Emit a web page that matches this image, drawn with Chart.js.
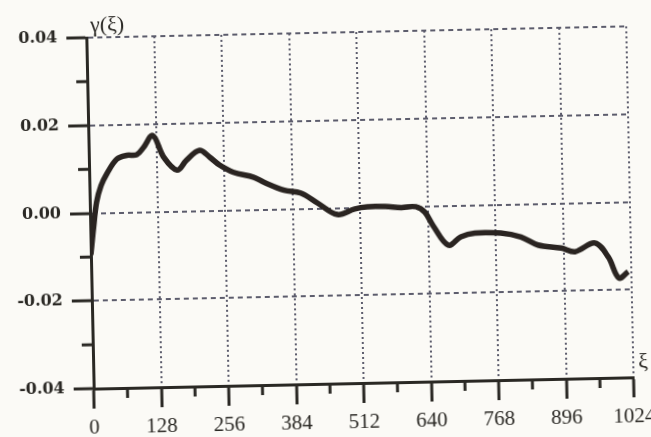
<!DOCTYPE html>
<html>
<head>
<meta charset="utf-8">
<script src="https://cdn.jsdelivr.net/npm/chart.js@4/dist/chart.umd.min.js"></script>
<style>
  html, body { margin: 0; padding: 0; background: #fbfaf6; overflow: hidden; }
  #wrap { width: 651px; height: 437px; transform: rotate(-1.2deg); transform-origin: 360px 210px; }
  canvas { display: block; }
</style>
</head>
<body>
<div id="wrap"><canvas id="c" width="651" height="437"></canvas></div>
<script>
// ---- data ----
const xi = [0, 6, 13, 22, 34, 53, 72, 91, 104, 122, 142, 167, 185, 210, 229, 248, 274, 312, 331, 369, 400, 432, 469, 502, 526, 560, 590, 618, 635, 650, 678, 702, 729, 778, 816, 848, 892, 918, 956, 981, 1000, 1018];
const gamma = [-0.0095, -0.0035, 0.0025, 0.0062, 0.0090, 0.0122, 0.0130, 0.0131, 0.0147, 0.0174, 0.0124, 0.0094, 0.0116, 0.0138, 0.0122, 0.0103, 0.0086, 0.0074, 0.0062, 0.0043, 0.0036, 0.0012, -0.0015, -0.0003, 0.0001, 0.0001, -0.0002, -0.0001, -0.0014, -0.0045, -0.0090, -0.0072, -0.0064, -0.0065, -0.0075, -0.0094, -0.0102, -0.0111, -0.0092, -0.0125, -0.0173, -0.0159];
const xMajorTicks = [0, 128, 256, 384, 512, 640, 768, 896, 1024];
const xMinorTicks = [64, 192, 320, 448, 576, 704, 832, 960];
const yMajorTicks = [-0.04, -0.02, 0.00, 0.02, 0.04];
const yMinorTicks = [-0.03, -0.01, 0.01, 0.03];
const yTitle = 'γ(ξ)';
const xTitle = 'ξ';

const INK = '#2a2824';
const GRID = '#5c5c6c';

const extras = {
  id: 'extras',
  afterDraw(chart) {
    const {ctx, chartArea: a, scales: {x, y}} = chart;
    ctx.save();
    ctx.strokeStyle = INK;
    ctx.lineWidth = 3;
    ctx.setLineDash([]);
    xMinorTicks.forEach(v => {
      const px = x.getPixelForValue(v);
      ctx.beginPath(); ctx.moveTo(px, a.bottom); ctx.lineTo(px, a.bottom + 10); ctx.stroke();
    });
    yMinorTicks.forEach(v => {
      const py = y.getPixelForValue(v);
      ctx.beginPath(); ctx.moveTo(a.left - 11, py); ctx.lineTo(a.left, py); ctx.stroke();
    });
    ctx.fillStyle = INK;
    ctx.textBaseline = 'middle';
    ctx.textAlign = 'left';
    ctx.font = '22px "Liberation Serif"';
    ctx.fillText(yTitle, a.left + 4, a.top - 12);
    ctx.font = '22px "Liberation Serif"';
    ctx.fillText(xTitle, a.right + 5, a.bottom - 15);
    ctx.restore();
  }
};

new Chart(document.getElementById('c'), {
  type: 'line',
  data: {
    datasets: [{
      data: xi.map((v, i) => ({x: v, y: gamma[i]})),
      borderColor: '#2a2421',
      borderWidth: 5.5,
      pointRadius: 0,
      tension: 0.35,
      fill: false
    }]
  },
  options: {
    responsive: false,
    animation: false,
    events: [],
    layout: { padding: { left: 0, right: 21, top: 32, bottom: 0 } },
    plugins: { legend: { display: false }, tooltip: { enabled: false }, title: { display: false } },
    scales: {
      x: {
        type: 'linear',
        min: 0, max: 1024,
        afterBuildTicks: s => { s.ticks = xMajorTicks.map(v => ({value: v})); },
        afterFit: s => { s.height = 54; s.paddingLeft = 0; s.paddingRight = 0; },
        ticks: {
          autoSkip: false, maxRotation: 0, padding: 7,
          color: INK,
          font: { family: '"Liberation Serif"', size: 21 },
          callback: v => String(v)
        },
        grid: {
          color: ctx => (ctx.tick && ctx.tick.value > 0) ? GRID : 'rgba(0,0,0,0)',
          lineWidth: 2,
          drawTicks: true,
          tickLength: 20,
          tickWidth: 3,
          tickColor: INK,
          tickBorderDash: []
        },
        border: { display: true, color: INK, width: 3, dash: [2, 3] }
      },
      y: {
        type: 'linear',
        min: -0.04, max: 0.04,
        afterBuildTicks: s => { s.ticks = yMajorTicks.map(v => ({value: v})); },
        afterFit: s => { s.width = 90; },
        ticks: {
          padding: 9,
          color: INK,
          font: { family: '"DejaVu Serif"', size: 16, weight: 'bold' },
          callback: v => v.toFixed(2)
        },
        grid: {
          color: ctx => (ctx.tick && ctx.tick.value > -0.035) ? GRID : 'rgba(0,0,0,0)',
          lineWidth: 2,
          drawTicks: true,
          tickLength: 20,
          tickWidth: 3,
          tickColor: INK,
          tickBorderDash: []
        },
        border: { display: true, color: INK, width: 3, dash: [5, 4] }
      }
    }
  },
  plugins: [extras]
});
</script>
</body>
</html>
